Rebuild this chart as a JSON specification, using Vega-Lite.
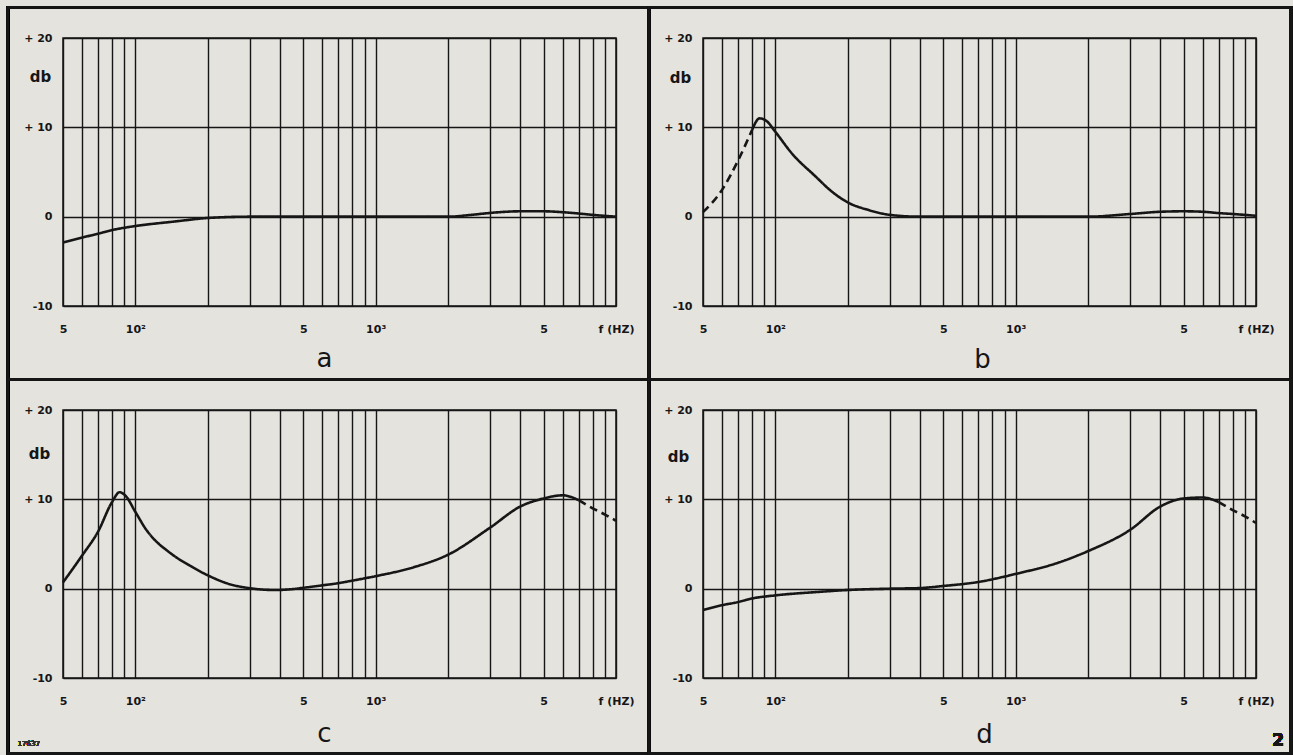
{
  "$schema": "https://vega.github.io/schema/vega-lite/v6.json",
  "padding": {"left": 6, "top": 5, "right": 0, "bottom": 0},
  "background": "#e5e3de",
  "datasets": {
    "curves": [
      {"panel": "a", "part": "solid", "f": 50, "db": -2.9},
      {"panel": "a", "part": "solid", "f": 60, "db": -2.35},
      {"panel": "a", "part": "solid", "f": 70, "db": -1.9},
      {"panel": "a", "part": "solid", "f": 80, "db": -1.5},
      {"panel": "a", "part": "solid", "f": 100, "db": -1.05},
      {"panel": "a", "part": "solid", "f": 145, "db": -0.55},
      {"panel": "a", "part": "solid", "f": 200, "db": -0.15},
      {"panel": "a", "part": "solid", "f": 300, "db": 0},
      {"panel": "a", "part": "solid", "f": 500, "db": 0},
      {"panel": "a", "part": "solid", "f": 1000, "db": 0},
      {"panel": "a", "part": "solid", "f": 2000, "db": 0},
      {"panel": "a", "part": "solid", "f": 2500, "db": 0.2},
      {"panel": "a", "part": "solid", "f": 3000, "db": 0.42},
      {"panel": "a", "part": "solid", "f": 4000, "db": 0.6},
      {"panel": "a", "part": "solid", "f": 5000, "db": 0.6},
      {"panel": "a", "part": "solid", "f": 6000, "db": 0.5},
      {"panel": "a", "part": "solid", "f": 7000, "db": 0.35},
      {"panel": "a", "part": "solid", "f": 8000, "db": 0.2},
      {"panel": "a", "part": "solid", "f": 10000, "db": 0},

      {"panel": "b", "part": "dashed", "f": 50, "db": 0.5},
      {"panel": "b", "part": "dashed", "f": 60, "db": 3.0},
      {"panel": "b", "part": "dashed", "f": 70, "db": 6.3},
      {"panel": "b", "part": "dashed", "f": 80, "db": 9.7},
      {"panel": "b", "part": "solid", "f": 80, "db": 9.7},
      {"panel": "b", "part": "solid", "f": 86, "db": 11.0},
      {"panel": "b", "part": "solid", "f": 92, "db": 10.7},
      {"panel": "b", "part": "solid", "f": 100, "db": 9.5},
      {"panel": "b", "part": "solid", "f": 117, "db": 7.1},
      {"panel": "b", "part": "solid", "f": 147, "db": 4.5},
      {"panel": "b", "part": "solid", "f": 172, "db": 2.8},
      {"panel": "b", "part": "solid", "f": 200, "db": 1.6},
      {"panel": "b", "part": "solid", "f": 244, "db": 0.75},
      {"panel": "b", "part": "solid", "f": 300, "db": 0.2},
      {"panel": "b", "part": "solid", "f": 400, "db": 0},
      {"panel": "b", "part": "solid", "f": 1000, "db": 0},
      {"panel": "b", "part": "solid", "f": 2000, "db": 0},
      {"panel": "b", "part": "solid", "f": 3000, "db": 0.3},
      {"panel": "b", "part": "solid", "f": 4000, "db": 0.55},
      {"panel": "b", "part": "solid", "f": 5000, "db": 0.6},
      {"panel": "b", "part": "solid", "f": 6000, "db": 0.55},
      {"panel": "b", "part": "solid", "f": 7000, "db": 0.4},
      {"panel": "b", "part": "solid", "f": 8000, "db": 0.3},
      {"panel": "b", "part": "solid", "f": 10000, "db": 0.1},

      {"panel": "c", "part": "solid", "f": 50, "db": 0.7},
      {"panel": "c", "part": "solid", "f": 60, "db": 3.7},
      {"panel": "c", "part": "solid", "f": 70, "db": 6.4},
      {"panel": "c", "part": "solid", "f": 80, "db": 9.7},
      {"panel": "c", "part": "solid", "f": 86, "db": 10.8},
      {"panel": "c", "part": "solid", "f": 91, "db": 10.4},
      {"panel": "c", "part": "solid", "f": 100, "db": 8.6},
      {"panel": "c", "part": "solid", "f": 111, "db": 6.6},
      {"panel": "c", "part": "solid", "f": 122, "db": 5.3},
      {"panel": "c", "part": "solid", "f": 135, "db": 4.3},
      {"panel": "c", "part": "solid", "f": 150, "db": 3.4},
      {"panel": "c", "part": "solid", "f": 168, "db": 2.6},
      {"panel": "c", "part": "solid", "f": 200, "db": 1.5},
      {"panel": "c", "part": "solid", "f": 247, "db": 0.5},
      {"panel": "c", "part": "solid", "f": 300, "db": 0.05},
      {"panel": "c", "part": "solid", "f": 380, "db": -0.15},
      {"panel": "c", "part": "solid", "f": 450, "db": -0.05},
      {"panel": "c", "part": "solid", "f": 500, "db": 0.1},
      {"panel": "c", "part": "solid", "f": 600, "db": 0.37},
      {"panel": "c", "part": "solid", "f": 700, "db": 0.62},
      {"panel": "c", "part": "solid", "f": 800, "db": 0.9},
      {"panel": "c", "part": "solid", "f": 1000, "db": 1.4},
      {"panel": "c", "part": "solid", "f": 1440, "db": 2.4},
      {"panel": "c", "part": "solid", "f": 2000, "db": 3.8},
      {"panel": "c", "part": "solid", "f": 3000, "db": 6.85},
      {"panel": "c", "part": "solid", "f": 4000, "db": 9.2},
      {"panel": "c", "part": "solid", "f": 5000, "db": 10.1},
      {"panel": "c", "part": "solid", "f": 6000, "db": 10.45},
      {"panel": "c", "part": "solid", "f": 7000, "db": 9.9},
      {"panel": "c", "part": "dashed", "f": 7000, "db": 9.9},
      {"panel": "c", "part": "dashed", "f": 8000, "db": 9.0},
      {"panel": "c", "part": "dashed", "f": 9000, "db": 8.3},
      {"panel": "c", "part": "dashed", "f": 10000, "db": 7.6},

      {"panel": "d", "part": "solid", "f": 50, "db": -2.4},
      {"panel": "d", "part": "solid", "f": 60, "db": -1.85},
      {"panel": "d", "part": "solid", "f": 70, "db": -1.5},
      {"panel": "d", "part": "solid", "f": 80, "db": -1.1},
      {"panel": "d", "part": "solid", "f": 100, "db": -0.75},
      {"panel": "d", "part": "solid", "f": 150, "db": -0.37},
      {"panel": "d", "part": "solid", "f": 200, "db": -0.15},
      {"panel": "d", "part": "solid", "f": 300, "db": 0},
      {"panel": "d", "part": "solid", "f": 400, "db": 0.07},
      {"panel": "d", "part": "solid", "f": 500, "db": 0.3},
      {"panel": "d", "part": "solid", "f": 700, "db": 0.75},
      {"panel": "d", "part": "solid", "f": 1000, "db": 1.65},
      {"panel": "d", "part": "solid", "f": 1500, "db": 2.9},
      {"panel": "d", "part": "solid", "f": 2000, "db": 4.2},
      {"panel": "d", "part": "solid", "f": 3000, "db": 6.6},
      {"panel": "d", "part": "solid", "f": 4000, "db": 9.2},
      {"panel": "d", "part": "solid", "f": 5000, "db": 10.1},
      {"panel": "d", "part": "solid", "f": 6000, "db": 10.2},
      {"panel": "d", "part": "solid", "f": 7000, "db": 9.7},
      {"panel": "d", "part": "dashed", "f": 7000, "db": 9.7},
      {"panel": "d", "part": "dashed", "f": 8000, "db": 8.8},
      {"panel": "d", "part": "dashed", "f": 9000, "db": 8.1},
      {"panel": "d", "part": "dashed", "f": 10000, "db": 7.35}
    ]
  },
  "data": {"name": "curves"},
  "columns": 2,
  "spacing": {"row": 104, "column": 87},
  "bounds": "flush",
  "concat": [
    {
      "width": 553, "height": 268,
      "layer": [
        {
          "transform": [{"filter": "datum.panel === 'a'"}],
          "mark": {"type": "line", "interpolate": "monotone", "color": "#161616", "strokeWidth": 2.6},
          "encoding": {
            "x": {"field": "f", "type": "quantitative", "scale": {"type": "log", "domain": [50, 10000], "nice": false},
              "axis": {"values": [50,60,70,80,90,100,200,300,400,500,600,700,800,900,1000,2000,3000,4000,5000,6000,7000,8000,9000,10000],
                "labelExpr": "datum.value == 50 ? '5' : datum.value == 100 ? '10²' : datum.value == 500 ? '5' : datum.value == 1000 ? '10³' : datum.value == 5000 ? '5' : datum.value == 10000 ? 'f (HZ)' : ''",
                "title": "a", "titleX": 261, "titleY": 60}},
            "y": {"field": "db", "type": "quantitative", "scale": {"domain": [-10, 20], "nice": false, "zero": false},
              "axis": {"values": [-10, 0, 10, 20], "labelExpr": "datum.value > 0 ? '+ ' + datum.value : '' + datum.value",
                "title": "db", "titleX": -23, "titleY": 38}},
            "strokeDash": {"field": "part", "type": "nominal", "scale": {"domain": ["solid", "dashed"], "range": [[1, 0], [8, 5]]}, "legend": null}
          }
        },
        {
          "mark": {"type": "rect", "filled": false, "color": "#161616", "strokeWidth": 2.2, "clip": false},
          "encoding": {
            "x": {"datum": 29.5, "type": "quantitative", "scale": {"type": "log", "domain": [50, 10000], "nice": false}},
            "x2": {"datum": 13720},
            "y": {"datum": 23.41, "type": "quantitative", "scale": {"domain": [-10, 20], "nice": false, "zero": false}},
            "y2": {"datum": -18.23}
          }
        }
      ]
    },
    {
      "width": 553, "height": 268,
      "layer": [
        {
          "transform": [{"filter": "datum.panel === 'b'"}],
          "mark": {"type": "line", "interpolate": "monotone", "color": "#161616", "strokeWidth": 2.6},
          "encoding": {
            "x": {"field": "f", "type": "quantitative", "scale": {"type": "log", "domain": [50, 10000], "nice": false},
              "axis": {"values": [50,60,70,80,90,100,200,300,400,500,600,700,800,900,1000,2000,3000,4000,5000,6000,7000,8000,9000,10000],
                "labelExpr": "datum.value == 50 ? '5' : datum.value == 100 ? '10²' : datum.value == 500 ? '5' : datum.value == 1000 ? '10³' : datum.value == 5000 ? '5' : datum.value == 10000 ? 'f (HZ)' : ''",
                "title": "b", "titleX": 279, "titleY": 61}},
            "y": {"field": "db", "type": "quantitative", "scale": {"domain": [-10, 20], "nice": false, "zero": false},
              "axis": {"values": [-10, 0, 10, 20], "labelExpr": "datum.value > 0 ? '+ ' + datum.value : '' + datum.value",
                "title": "db", "titleX": -23, "titleY": 39}},
            "strokeDash": {"field": "part", "type": "nominal", "scale": {"domain": ["solid", "dashed"], "range": [[1, 0], [8, 5]]}, "legend": null}
          }
        },
        {
          "mark": {"type": "rect", "filled": false, "color": "#161616", "strokeWidth": 2.2, "clip": false},
          "encoding": {
            "x": {"datum": 29.8, "type": "quantitative", "scale": {"type": "log", "domain": [50, 10000], "nice": false}},
            "x2": {"datum": 13985},
            "y": {"datum": 23.41, "type": "quantitative", "scale": {"domain": [-10, 20], "nice": false, "zero": false}},
            "y2": {"datum": -18.23}
          }
        }
      ]
    },
    {
      "width": 553, "height": 268,
      "layer": [
        {
          "transform": [{"filter": "datum.panel === 'c'"}],
          "mark": {"type": "line", "interpolate": "monotone", "color": "#161616", "strokeWidth": 2.6},
          "encoding": {
            "x": {"field": "f", "type": "quantitative", "scale": {"type": "log", "domain": [50, 10000], "nice": false},
              "axis": {"values": [50,60,70,80,90,100,200,300,400,500,600,700,800,900,1000,2000,3000,4000,5000,6000,7000,8000,9000,10000],
                "labelExpr": "datum.value == 50 ? '5' : datum.value == 100 ? '10²' : datum.value == 500 ? '5' : datum.value == 1000 ? '10³' : datum.value == 5000 ? '5' : datum.value == 10000 ? 'f (HZ)' : ''",
                "title": "c", "titleX": 261, "titleY": 63}},
            "y": {"field": "db", "type": "quantitative", "scale": {"domain": [-10, 20], "nice": false, "zero": false},
              "axis": {"values": [-10, 0, 10, 20], "labelExpr": "datum.value > 0 ? '+ ' + datum.value : '' + datum.value",
                "title": "db", "titleX": -24, "titleY": 43}},
            "strokeDash": {"field": "part", "type": "nominal", "scale": {"domain": ["solid", "dashed"], "range": [[1, 0], [8, 5]]}, "legend": null}
          }
        },
        {
          "mark": {"type": "rect", "filled": false, "color": "#161616", "strokeWidth": 2.2, "clip": false},
          "encoding": {
            "x": {"datum": 29.5, "type": "quantitative", "scale": {"type": "log", "domain": [50, 10000], "nice": false}},
            "x2": {"datum": 13720},
            "y": {"datum": 23.41, "type": "quantitative", "scale": {"domain": [-10, 20], "nice": false, "zero": false}},
            "y2": {"datum": -18.45}
          }
        },
        {
          "mark": {"type": "text", "text": "17637", "fontSize": 7, "color": "#333333", "clip": false},
          "encoding": {
            "x": {"datum": 36, "type": "quantitative", "scale": {"type": "log", "domain": [50, 10000], "nice": false}},
            "y": {"datum": -17.4, "type": "quantitative", "scale": {"domain": [-10, 20], "nice": false, "zero": false}}
          }
        }
      ]
    },
    {
      "width": 553, "height": 268,
      "layer": [
        {
          "transform": [{"filter": "datum.panel === 'd'"}],
          "mark": {"type": "line", "interpolate": "monotone", "color": "#161616", "strokeWidth": 2.6},
          "encoding": {
            "x": {"field": "f", "type": "quantitative", "scale": {"type": "log", "domain": [50, 10000], "nice": false},
              "axis": {"values": [50,60,70,80,90,100,200,300,400,500,600,700,800,900,1000,2000,3000,4000,5000,6000,7000,8000,9000,10000],
                "labelExpr": "datum.value == 50 ? '5' : datum.value == 100 ? '10²' : datum.value == 500 ? '5' : datum.value == 1000 ? '10³' : datum.value == 5000 ? '5' : datum.value == 10000 ? 'f (HZ)' : ''",
                "title": "d", "titleX": 281, "titleY": 64}},
            "y": {"field": "db", "type": "quantitative", "scale": {"domain": [-10, 20], "nice": false, "zero": false},
              "axis": {"values": [-10, 0, 10, 20], "labelExpr": "datum.value > 0 ? '+ ' + datum.value : '' + datum.value",
                "title": "db", "titleX": -25, "titleY": 46}},
            "strokeDash": {"field": "part", "type": "nominal", "scale": {"domain": ["solid", "dashed"], "range": [[1, 0], [8, 5]]}, "legend": null}
          }
        },
        {
          "mark": {"type": "rect", "filled": false, "color": "#161616", "strokeWidth": 2.2, "clip": false},
          "encoding": {
            "x": {"datum": 29.8, "type": "quantitative", "scale": {"type": "log", "domain": [50, 10000], "nice": false}},
            "x2": {"datum": 13985},
            "y": {"datum": 23.41, "type": "quantitative", "scale": {"domain": [-10, 20], "nice": false, "zero": false}},
            "y2": {"datum": -18.45}
          }
        },
        {
          "mark": {"type": "text", "text": "2", "fontSize": 17, "fontWeight": "bold", "color": "#161616", "clip": false},
          "encoding": {
            "x": {"datum": 12360, "type": "quantitative", "scale": {"type": "log", "domain": [50, 10000], "nice": false}},
            "y": {"datum": -17.0, "type": "quantitative", "scale": {"domain": [-10, 20], "nice": false, "zero": false}}
          }
        }
      ]
    }
  ],
  "config": {
    "font": "DejaVu Sans",
    "view": {"stroke": "#161616", "strokeWidth": 1.5},
    "axis": {
      "grid": true, "gridColor": "#161616", "gridOpacity": 1, "gridWidth": 1.4,
      "ticks": false, "domain": false,
      "labelColor": "#161616", "labelFont": "DejaVu Sans", "labelFontSize": 11, "labelFontWeight": "bold",
      "labelOverlap": false, "labelFlush": false, "labelBound": false,
      "titleColor": "#161616", "titleFont": "DejaVu Sans"
    },
    "axisX": {"labelPadding": 17, "titleFontSize": 26, "titleFontWeight": "normal", "titleBaseline": "alphabetic", "titleAlign": "center"},
    "axisY": {"labelPadding": 11, "titleAngle": 0, "titleFontSize": 15, "titleFontWeight": "bold", "titleAlign": "center", "titleBaseline": "middle"}
  }
}
